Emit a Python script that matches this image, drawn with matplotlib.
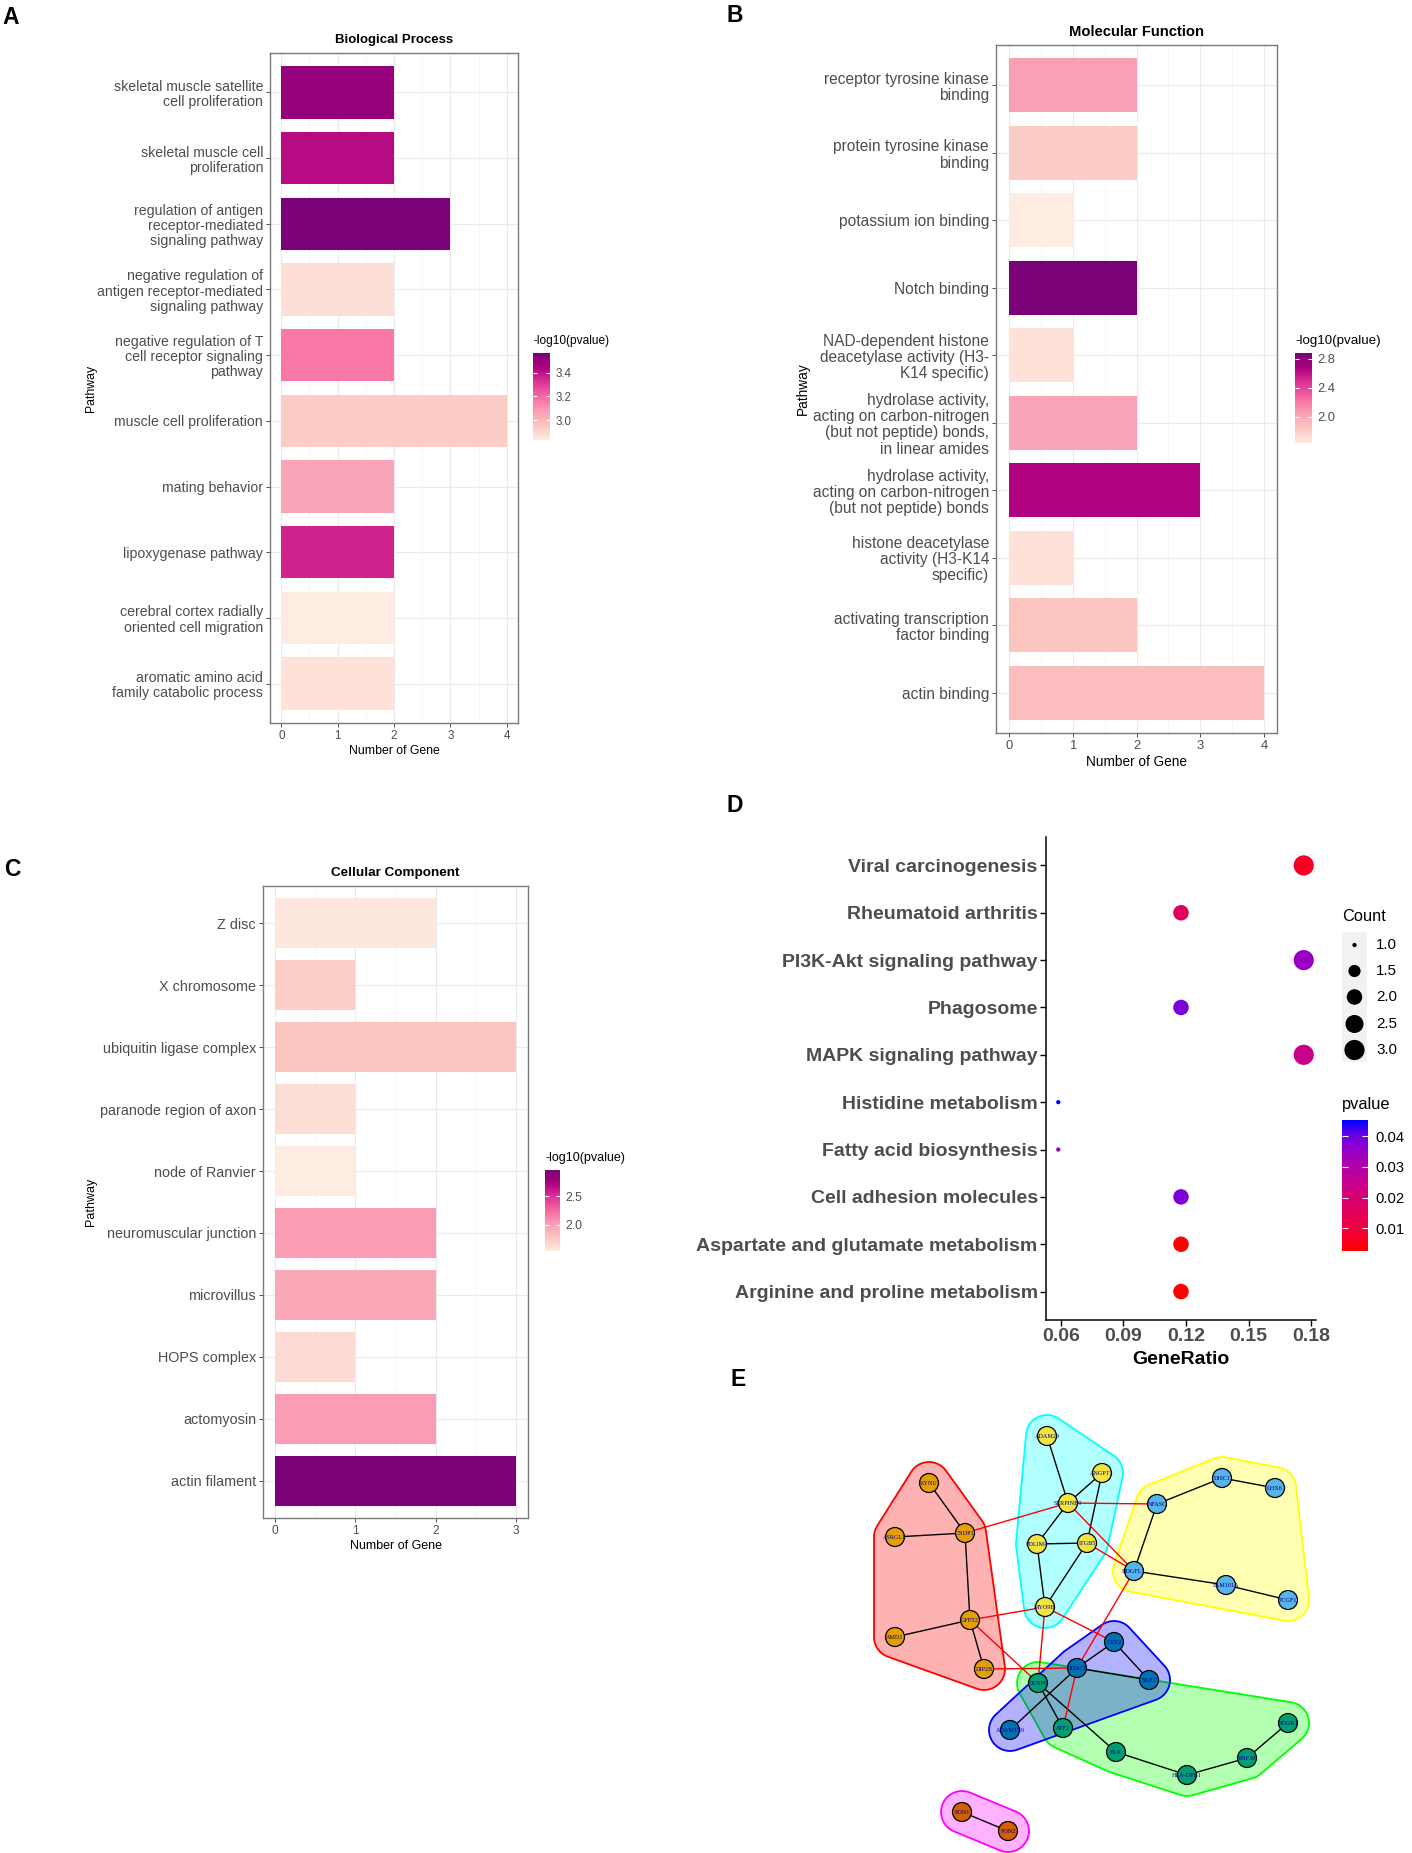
import numpy as np
import matplotlib
matplotlib.use('Agg')
import matplotlib.pyplot as plt
from matplotlib.colors import LinearSegmentedColormap, Normalize
from matplotlib.cm import ScalarMappable
from matplotlib.patches import Polygon, Circle, Rectangle

plt.rcParams['font.family'] = ['Liberation Sans', 'DejaVu Sans']

# ---- datos GO: Biological Process ----
bp_pathway = ['skeletal muscle satellite\ncell proliferation',
              'skeletal muscle cell\nproliferation',
              'regulation of antigen\nreceptor-mediated\nsignaling pathway',
              'negative regulation of\nantigen receptor-mediated\nsignaling pathway',
              'negative regulation of T\ncell receptor signaling\npathway',
              'muscle cell proliferation',
              'mating behavior',
              'lipoxygenase pathway',
              'cerebral cortex radially\noriented cell migration',
              'aromatic amino acid\nfamily catabolic process']
bp_count = [2, 2, 3, 2, 2, 4, 2, 2, 2, 2]
bp_logp = [3.50, 3.42, 3.57, 2.87, 3.16, 2.93, 3.06, 3.36, 2.83, 2.86]

# ---- Molecular Function ----
mf_pathway = ['receptor tyrosine kinase\nbinding',
              'protein tyrosine kinase\nbinding',
              'potassium ion binding',
              'Notch binding',
              'NAD-dependent histone\ndeacetylase activity (H3-\nK14 specific)',
              'hydrolase activity,\nacting on carbon-nitrogen\n(but not peptide) bonds,\nin linear amides',
              'hydrolase activity,\nacting on carbon-nitrogen\n(but not peptide) bonds',
              'histone deacetylase\nactivity (H3-K14\nspecific)',
              'activating transcription\nfactor binding',
              'actin binding']
mf_count = [2, 2, 1, 2, 1, 2, 3, 1, 2, 4]
mf_logp = [2.05, 1.81, 1.64, 2.88, 1.69, 2.02, 2.67, 1.69, 1.85, 1.89]

# ---- Cellular Component ----
cc_pathway = ['Z disc', 'X chromosome', 'ubiquitin ligase complex',
              'paranode region of axon', 'node of Ranvier',
              'neuromuscular junction', 'microvillus', 'HOPS complex',
              'actomyosin', 'actin filament']
cc_count = [2, 1, 3, 1, 1, 2, 2, 1, 2, 3]
cc_logp = [1.58, 1.73, 1.79, 1.63, 1.55, 2.03, 1.97, 1.65, 2.03, 2.95]

# ---- KEGG ----
kegg_pathway = ['Viral carcinogenesis', 'Rheumatoid arthritis',
                'PI3K-Akt signaling pathway', 'Phagosome',
                'MAPK signaling pathway', 'Histidine metabolism',
                'Fatty acid biosynthesis', 'Cell adhesion molecules',
                'Aspartate and glutamate metabolism',
                'Arginine and proline metabolism']
kegg_count = [3, 2, 3, 2, 3, 1, 1, 2, 2, 2]
kegg_total = 17
kegg_pvalue = [0.0070, 0.0155, 0.0346, 0.0388, 0.0240, 0.0452,
               0.0367, 0.0380, 0.0027, 0.0027]

# ---- red PPI ----
node_name = ['KYNU', 'ASRGL1', 'CNDP1', 'GFPT2', 'AMD1', 'DIP2B',
             'ADAM29', 'ANGPT1', 'SERPINB9', 'PDLIM4', 'ITGB5', 'MYO9B',
             'NFASC', 'DISC1', 'LHX6', 'HDGFL1', 'FAM101A', 'PCGF1',
             'DUSP9', 'ATF2', 'BLK', 'HLA-DPB1', 'RNF39', 'HOOK1',
             'CRY2', 'HDAC9', 'SKP2', 'ADAMTS9',
             'PON1', 'PON2']
node_x = [929, 895, 965, 970, 895, 984,
          1047, 1102, 1068, 1037, 1087, 1045,
          1157, 1222, 1275, 1134, 1226, 1288,
          1038, 1063, 1116, 1187, 1247, 1288,
          1114, 1077, 1149, 1010,
          962, 1008]
node_y = [1483, 1537, 1533, 1620, 1637, 1669,
          1436, 1473, 1503, 1544, 1543, 1607,
          1504, 1478, 1488, 1571, 1585, 1600,
          1683, 1728, 1752, 1775, 1758, 1723,
          1642, 1668, 1680, 1730,
          1812, 1831]
node_group = [0]*6 + [1]*6 + [2]*6 + [3]*6 + [4]*4 + [5]*2
edges_in = [('KYNU', 'CNDP1'), ('ASRGL1', 'CNDP1'), ('CNDP1', 'GFPT2'),
            ('GFPT2', 'AMD1'), ('GFPT2', 'DIP2B'),
            ('ADAM29', 'SERPINB9'), ('ANGPT1', 'SERPINB9'), ('ANGPT1', 'ITGB5'),
            ('SERPINB9', 'PDLIM4'), ('PDLIM4', 'ITGB5'), ('PDLIM4', 'MYO9B'),
            ('ITGB5', 'MYO9B'),
            ('NFASC', 'DISC1'), ('DISC1', 'LHX6'), ('NFASC', 'HDGFL1'),
            ('HDGFL1', 'FAM101A'), ('FAM101A', 'PCGF1'),
            ('CRY2', 'HDAC9'), ('CRY2', 'SKP2'), ('HDAC9', 'SKP2'),
            ('HDAC9', 'ADAMTS9'),
            ('DUSP9', 'ATF2'), ('DUSP9', 'BLK'), ('BLK', 'HLA-DPB1'),
            ('HLA-DPB1', 'RNF39'), ('RNF39', 'HOOK1'),
            ('PON1', 'PON2')]
edges_out = [('CNDP1', 'SERPINB9'), ('SERPINB9', 'NFASC'), ('SERPINB9', 'HDGFL1'),
             ('ITGB5', 'HDGFL1'), ('GFPT2', 'MYO9B'), ('GFPT2', 'DUSP9'),
             ('DIP2B', 'HDAC9'), ('MYO9B', 'DUSP9'), ('MYO9B', 'CRY2'),
             ('HDGFL1', 'HDAC9'), ('HDAC9', 'ATF2')]
node_col = ['#E69F00', '#F0E442', '#56B4E9', '#009E73', '#0072B2', '#D55E00']
hull_col = ['#FF0000', '#00FFFF', '#FFFF00', '#00FF00', '#0000FF', '#FF00FF']

W, H = 1412, 1853
fig = plt.figure(figsize=(W / 100, H / 100), dpi=100)


def px_ax(l, t, r, b):
    return fig.add_axes([l / W, 1 - b / H, (r - l) / W, (b - t) / H])


def ftext(x, y, s, **kw):
    return fig.text(x / W, 1 - y / H, s, **kw)


rdpu = LinearSegmentedColormap.from_list(
    'rdpu', ['#FEEBE2', '#FCC5C0', '#FA9FB5', '#F768A1', '#DD3497', '#AE017E', '#7A0177'])
red_blue = LinearSegmentedColormap.from_list(
    'rb', ['#FF0000', '#F40031', '#E80050', '#DA006C', '#C90089',
           '#B500A5', '#9A00C2', '#7100DF', '#0000FF'])


def panel_barras(box, labels, counts, logp, title, fs_t, fs_y, fs_x,
                 cbox, cticks, fs_c, path_x):
    l, t, r, b = box
    ax = px_ax(l, t, r, b)
    n = len(labels)
    ypos = np.arange(n)[::-1]
    norm = Normalize(min(logp), max(logp))
    ax.barh(ypos, counts, height=0.8, color=rdpu(norm(np.array(logp))), zorder=3)
    xmax = max(counts)
    ax.set_xlim(-0.05 * xmax, 1.05 * xmax)
    ax.set_ylim(-0.6, n - 0.4)
    ax.set_xticks(range(xmax + 1))
    ax.set_xticks(np.arange(0.5, xmax, 1), minor=True)
    ax.set_yticks(ypos)
    ax.set_yticklabels(labels, linespacing=1.1)
    ax.set_axisbelow(True)
    ax.grid(which='major', color='#EBEBEB', lw=0.8)
    ax.grid(which='minor', axis='x', color='#F3F3F3', lw=0.5)
    ax.tick_params(which='major', length=3, width=0.6, color='#333333',
                   labelcolor='#4D4D4D', pad=2)
    ax.tick_params(which='minor', length=0)
    ax.tick_params(axis='y', labelsize=fs_y)
    ax.tick_params(axis='x', labelsize=fs_x)
    for sp in ax.spines.values():
        sp.set_color('#7A7A7A')
        sp.set_linewidth(1.0)
    ax.set_xlabel('Number of Gene', fontsize=fs_x + 0.4, labelpad=2)
    ftext((l + r) / 2, t - 13, title, ha='center', va='center',
          fontsize=fs_t, fontweight='bold')
    ftext(path_x, (t + b) / 2, 'Pathway', rotation=90, ha='center',
          va='center', fontsize=fs_x + 0.4)
    # barra de color
    cax = px_ax(*cbox)
    cb = fig.colorbar(ScalarMappable(norm, rdpu), cax=cax, ticks=cticks)
    cb.outline.set_visible(False)
    cb.minorticks_off()
    cb.set_ticklabels(['%.1f' % v for v in cticks])
    cax.tick_params(axis='y', direction='in', color='white', length=3,
                    width=0.8, left=True, right=True, labelleft=False,
                    labelright=True, labelsize=fs_c - 0.3,
                    labelcolor='#4D4D4D', pad=4)
    ftext(cbox[0], cbox[1] - 12, '-log10(pvalue)', ha='left', va='center',
          fontsize=fs_c)
    return ax


panel_barras((270, 53, 518, 723), bp_pathway, bp_count, bp_logp,
             'Biological Process', 9.5, 10.2, 8.4,
             (533, 353, 550, 440), [3.0, 3.2, 3.4], 8.6, 91)
panel_barras((996, 45, 1277, 733), mf_pathway, mf_count, mf_logp,
             'Molecular Function', 10.6, 11.2, 9.4,
             (1295, 353, 1312, 443), [2.0, 2.4, 2.8], 9.6, 803)
panel_barras((263, 886, 528, 1518), cc_pathway, cc_count, cc_logp,
             'Cellular Component', 9.7, 10.4, 8.6,
             (545, 1170, 560, 1251), [2.0, 2.5], 9.0, 91)

# ---- panel D: KEGG ----
axd = px_ax(1046, 837, 1316, 1320)
n = len(kegg_pathway)
ypos = np.arange(n)[::-1]
ratio = np.array(kegg_count) / kegg_total
cnt = np.array(kegg_count, dtype=float)


def dot_s(c):
    sz = 1 + 5 * np.sqrt((c - cnt.min()) / (cnt.max() - cnt.min()))
    d = 1.12 * (2.845 * sz + 0.945)
    return (d * 0.72) ** 2


normp = Normalize(min(kegg_pvalue), max(kegg_pvalue))
axd.scatter(ratio, ypos, s=dot_s(cnt), c=kegg_pvalue, cmap=red_blue,
            norm=normp, linewidths=0, zorder=3)
span = ratio.max() - ratio.min()
axd.set_xlim(ratio.min() - 0.05 * span, ratio.max() + 0.05 * span)
axd.set_ylim(-0.6, n - 0.4)
axd.set_yticks(ypos)
axd.set_yticklabels(kegg_pathway, fontweight='bold')
axd.set_xticks([0.06, 0.09, 0.12, 0.15, 0.18])
axd.set_xticklabels(['0.06', '0.09', '0.12', '0.15', '0.18'], fontweight='bold')
axd.tick_params(length=4, width=1, color='black', labelcolor='#4D4D4D',
                labelsize=14, pad=2)
for sp in ['top', 'right']:
    axd.spines[sp].set_visible(False)
for sp in ['left', 'bottom']:
    axd.spines[sp].set_linewidth(1.1)
axd.set_xlabel('GeneRatio', fontsize=14, fontweight='bold', labelpad=4)

# leyenda de tamaño
axl = px_ax(1342, 932, 1412, 1062)
axl.set_xlim(1342, 1412)
axl.set_ylim(1062, 932)
axl.axis('off')
axl.add_patch(Rectangle((1342, 932), 25, 130, color='#F2F2F2', lw=0))
leg_counts = [1.0, 1.5, 2.0, 2.5, 3.0]
leg_y = [945, 971, 997, 1024, 1050]
axl.scatter([1354.5] * 5, leg_y, s=dot_s(np.array(leg_counts)), color='black',
            linewidths=0)
for c, yy in zip(leg_counts, leg_y):
    axl.text(1376, yy, '%.1f' % c, ha='left', va='center', fontsize=10.9)
ftext(1342, 916, 'Count', ha='left', va='center', fontsize=11.8)

# barra pvalue
caxd = px_ax(1342, 1120, 1368, 1251)
cbd = fig.colorbar(ScalarMappable(normp, red_blue), cax=caxd,
                   ticks=[0.01, 0.02, 0.03, 0.04])
cbd.outline.set_visible(False)
cbd.minorticks_off()
cbd.set_ticklabels(['0.01', '0.02', '0.03', '0.04'])
caxd.tick_params(axis='y', direction='in', color='white', length=4.5, width=0.8,
                 left=True, right=True, labelleft=False, labelright=True,
                 labelsize=10.6, pad=5)
ftext(1342, 1104, 'pvalue', ha='left', va='center', fontsize=11.8)

# ---- panel E: red ----
axe = px_ax(820, 1340, 1412, 1853)
axe.set_xlim(820, 1412)
axe.set_ylim(1853, 1340)
axe.axis('off')
pos = {nm: (x, y) for nm, x, y in zip(node_name, node_x, node_y)}


def casco(pts):
    pts = sorted(set(map(tuple, np.round(pts, 3))))
    def cross(o, a, b):
        return (a[0] - o[0]) * (b[1] - o[1]) - (a[1] - o[1]) * (b[0] - o[0])
    lower, upper = [], []
    for p in pts:
        while len(lower) >= 2 and cross(lower[-2], lower[-1], p) <= 0:
            lower.pop()
        lower.append(p)
    for p in reversed(pts):
        while len(upper) >= 2 and cross(upper[-2], upper[-1], p) <= 0:
            upper.pop()
        upper.append(p)
    return np.array(lower[:-1] + upper[:-1])


ang = np.linspace(0, 2 * np.pi, 48, endpoint=False)
R = 21
for g in range(len(hull_col)):
    gx = [x for x, k in zip(node_x, node_group) if k == g]
    gy = [y for y, k in zip(node_y, node_group) if k == g]
    pts = np.concatenate([np.c_[x + R * np.cos(ang), y + R * np.sin(ang)]
                          for x, y in zip(gx, gy)])
    hull = casco(pts)
    axe.add_patch(Polygon(hull, closed=True, facecolor=hull_col[g], alpha=0.3,
                          lw=0, zorder=1))
    axe.add_patch(Polygon(hull, closed=True, fill=False, edgecolor=hull_col[g],
                          lw=1.3, zorder=1))

for a, b in edges_in:
    axe.plot([pos[a][0], pos[b][0]], [pos[a][1], pos[b][1]], color='black',
             lw=1.0, zorder=2)
for a, b in edges_out:
    axe.plot([pos[a][0], pos[b][0]], [pos[a][1], pos[b][1]], color='#FF0000',
             lw=1.0, zorder=2)
for nm, x, y, g in zip(node_name, node_x, node_y, node_group):
    axe.add_patch(Circle((x, y), 9.5, facecolor=node_col[g], edgecolor='black',
                         lw=0.9, zorder=3))
    axe.text(x, y, nm, ha='center', va='center', fontsize=4.4, color='#00008B',
             family=['Liberation Serif', 'DejaVu Serif'], zorder=4)

# letras de los paneles
for let, x, y in [('A', 2, 17), ('B', 726, 15), ('C', 4, 870),
                  ('D', 726, 806), ('E', 730, 1380)]:
    ftext(x, y, let, ha='left', va='center', fontsize=16.5, fontweight='bold')

plt.savefig('out.png', dpi=100)
